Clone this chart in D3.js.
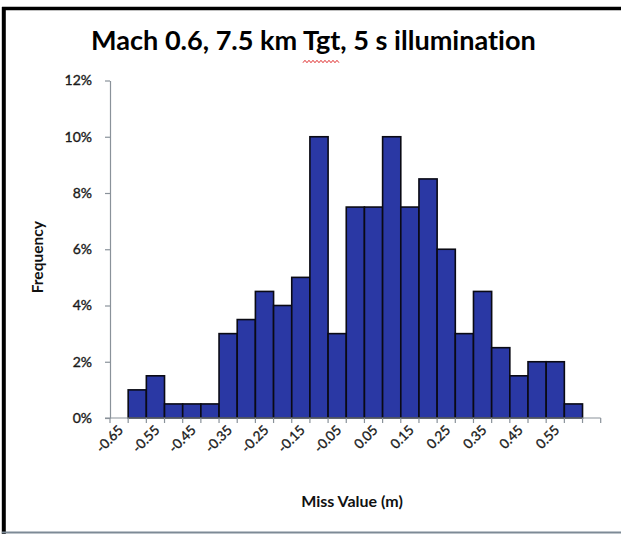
<!DOCTYPE html>
<html>
<head>
<meta charset="utf-8">
<script src="https://cdn.jsdelivr.net/npm/d3@7"></script>
<style>
  html, body { margin: 0; padding: 0; background: #fff; }
  svg { display: block; }
  text { font-family: Lato, "Open Sans", sans-serif; font-variant-ligatures: none; }
  .lbl { stroke: #1a1a1a; stroke-width: 0.35px; }
</style>
</head>
<body>
<script>
// Histogram bins (miss value, m) and the share of runs falling in each bin (%)
const categories = [
  "-0.65", "-0.60", "-0.55", "-0.50", "-0.45", "-0.40", "-0.35", "-0.30", "-0.25",
  "-0.20", "-0.15", "-0.10", "-0.05", "0.00", "0.05", "0.10", "0.15", "0.20",
  "0.25", "0.30", "0.35", "0.40", "0.45", "0.50", "0.55", "0.60", "0.65"
];
const frequency = [
  0, 1.0, 1.5, 0.5, 0.5, 0.5, 3.0, 3.5, 4.5,
  4.0, 5.0, 10.0, 3.0, 7.5, 7.5, 10.0, 7.5, 8.5,
  6.0, 3.0, 4.5, 2.5, 1.5, 2.0, 2.0, 0.5, 0
];
const xTickLabels = ["-0.65", "-0.55", "-0.45", "-0.35", "-0.25", "-0.15", "-0.05",
                     "0.05", "0.15", "0.25", "0.35", "0.45", "0.55"];
const yTicks = [0, 2, 4, 6, 8, 10, 12];

const titleText = "Mach 0.6, 7.5 km Tgt, 5 s illumination";
const xTitle = "Miss Value (m)";
const yTitle = "Frequency";

const W = 621, H = 534;
const plot = { left: 110, right: 600.7, top: 80.5, bottom: 418 };

const svg = d3.select("body").append("svg")
  .attr("width", W).attr("height", H);

svg.append("rect").attr("width", W).attr("height", H).attr("fill", "#fff");

// Frame around the chart
svg.append("line").attr("x1", 2).attr("x2", W).attr("y1", 8.5).attr("y2", 8.5)
  .attr("stroke", "#000").attr("stroke-width", 3.5);
svg.append("line").attr("x1", 3.8).attr("x2", 3.8).attr("y1", 7).attr("y2", H)
  .attr("stroke", "#000").attr("stroke-width", 4);
svg.append("line").attr("x1", 2).attr("x2", W).attr("y1", 532.5).attr("y2", 532.5)
  .attr("stroke", "#7d8a96").attr("stroke-width", 2);

const x = d3.scaleBand().domain(categories).range([plot.left, plot.right]).padding(0);
const y = d3.scaleLinear().domain([0, 12]).range([plot.bottom, plot.top]);

// Bars
svg.append("g").selectAll("rect").data(categories.map((c, i) => ({ c, v: frequency[i] })))
  .join("rect")
  .filter(d => d.v > 0)
  .attr("x", d => x(d.c))
  .attr("y", d => y(d.v))
  .attr("width", x.bandwidth())
  .attr("height", d => y(0) - y(d.v))
  .attr("fill", "#2a38a4")
  .attr("stroke", "#0a0a14")
  .attr("stroke-width", 1.6);

// Y axis
const axisColor = "#8a929a";
const yAxis = svg.append("g")
  .attr("transform", `translate(${plot.left},0)`)
  .call(d3.axisLeft(y).tickValues(yTicks).tickFormat(d => d + "%").tickSize(5).tickSizeOuter(0));
yAxis.select(".domain").attr("stroke", axisColor).attr("stroke-width", 1.2);
yAxis.selectAll(".tick line").attr("stroke", axisColor).attr("stroke-width", 1.2);
yAxis.selectAll(".tick text")
  .attr("class", "lbl")
  .attr("x", -18)
  .attr("fill", "#1a1a1a")
  .style("font-size", "14px")
  .style("font-family", "Lato, sans-serif");

// X axis: line plus a tick at each bin boundary
const xAxis = svg.append("g");
xAxis.append("line")
  .attr("x1", plot.left - 5).attr("x2", plot.right)
  .attr("y1", plot.bottom).attr("y2", plot.bottom)
  .attr("stroke", axisColor).attr("stroke-width", 1.2);
const boundaries = categories.map(c => x(c)).concat([x(categories[categories.length - 1]) + x.bandwidth()]);
xAxis.selectAll("line.tick").data(boundaries).join("line")
  .attr("class", "tick")
  .attr("x1", d => d).attr("x2", d => d)
  .attr("y1", plot.bottom).attr("y2", plot.bottom + 5)
  .attr("stroke", axisColor).attr("stroke-width", 1.2);

// Rotated category labels
xAxis.selectAll("text").data(xTickLabels).join("text")
  .attr("class", "lbl")
  .attr("transform", d => `translate(${x(d) + x.bandwidth() / 2 + 5},${plot.bottom + 13}) rotate(-45)`)
  .attr("text-anchor", "end")
  .attr("fill", "#1a1a1a")
  .style("font-size", "13.5px")
  .text(d => d);

// Axis titles
svg.append("text")
  .attr("x", 352).attr("y", 507)
  .attr("text-anchor", "middle")
  .style("font-size", "16px").style("font-weight", 700)
  .attr("fill", "#111")
  .text(xTitle);

svg.append("text")
  .attr("transform", `translate(43,${(plot.top + plot.bottom) / 2 + 8}) rotate(-90)`)
  .attr("text-anchor", "middle")
  .style("font-size", "15.5px").style("font-weight", 700)
  .attr("fill", "#111")
  .text(yTitle);

// Chart title, sized to its intended width
const title = svg.append("text")
  .attr("x", 91).attr("y", 50)
  .style("font-size", "24px").style("font-weight", 700)
  .attr("fill", "#000")
  .text(titleText);
const natural = title.node().getComputedTextLength();
title.style("font-size", (24 * 445 / natural).toFixed(2) + "px");

// Red spell-check squiggle under "Tgt"
const node = title.node();
const idx = titleText.indexOf("Tgt");
const sx0 = 91 + node.getSubStringLength(0, idx);
const sw = node.getSubStringLength(idx, 3);
const pts = [];
for (let px = 0, k = 0; px <= sw; px += 2, k++) pts.push([sx0 + px, 61.5 + (k % 2 ? -1.2 : 1.2)]);
svg.append("path")
  .attr("d", d3.line()(pts))
  .attr("fill", "none")
  .attr("stroke", "#e03030")
  .attr("stroke-width", 1);
</script>
</body>
</html>
